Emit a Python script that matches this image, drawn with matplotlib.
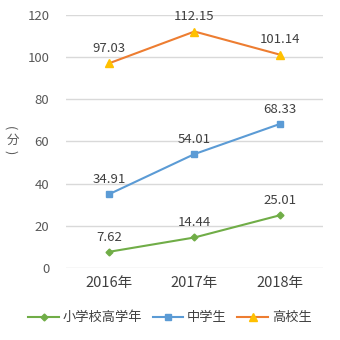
import matplotlib
matplotlib.use("Agg")
import matplotlib.pyplot as plt

plt.rcParams['font.family'] = ['Noto Sans CJK JP', 'DejaVu Sans']

years = ["2016年", "2017年", "2018年"]
elem = [7.62, 14.44, 25.01]
middle = [34.91, 54.01, 68.33]
high = [97.03, 112.15, 101.14]
series_names = ["小学校高学年", "中学生", "高校生"]
yticks = [0, 20, 40, 60, 80, 100, 120]

fig = plt.figure(figsize=(3.4, 3.4), dpi=100)
ax = fig.add_axes([0.194, 0.212, 0.756, 0.744])

x = list(range(len(years)))
styles = [
    (elem, '#70AD47', 'D', '#70AD47', 3.5),
    (middle, '#5B9BD5', 's', '#5B9BD5', 4.5),
    (high, '#ED7D31', '^', '#FFC000', 5.5),
]
handles = []
for (vals, c, m, mc, ms), name in zip(styles, series_names):
    h, = ax.plot(x, vals, color=c, lw=1.5, marker=m, markersize=ms,
                 markerfacecolor=mc, markeredgecolor=mc, label=name, zorder=3)
    handles.append(h)
    for xi, v in zip(x, vals):
        ax.annotate(f"{v:.2f}", (xi, v), xytext=(0, 6), textcoords='offset points',
                    ha='center', va='bottom', fontsize=9.5, color='#404040')

ax.set_xlim(-0.5, 2.5)
ax.set_ylim(0, 120)
ax.set_yticks(yticks)
ax.set_xticks(x)
ax.set_xticklabels(years, fontsize=10.5, color='#404040')
ax.tick_params(axis='y', labelsize=9.5, labelcolor='#595959', length=0, pad=12)
ax.tick_params(axis='x', length=0, pad=6)
ax.grid(axis='y', color='#D9D9D9', lw=1)
ax.set_axisbelow(True)
for s in ax.spines.values():
    s.set_visible(False)

# vertical y-axis label "(分)"
lx = 0.038
fig.text(lx - 0.008, 0.622, "(", ha='center', va='center', fontsize=9, color='#595959', rotation=-90)
fig.text(lx, 0.588, "分", ha='center', va='center', fontsize=9, color='#595959')
fig.text(lx - 0.008, 0.552, ")", ha='center', va='center', fontsize=9, color='#595959', rotation=-90)

fig.legend(handles=handles, loc='center', bbox_to_anchor=(0.5, 0.065), ncol=3,
           frameon=False, fontsize=9.5, handlelength=2.3, columnspacing=0.8,
           handletextpad=0.3, labelcolor='#404040')

fig.savefig("out.png", dpi=100)
